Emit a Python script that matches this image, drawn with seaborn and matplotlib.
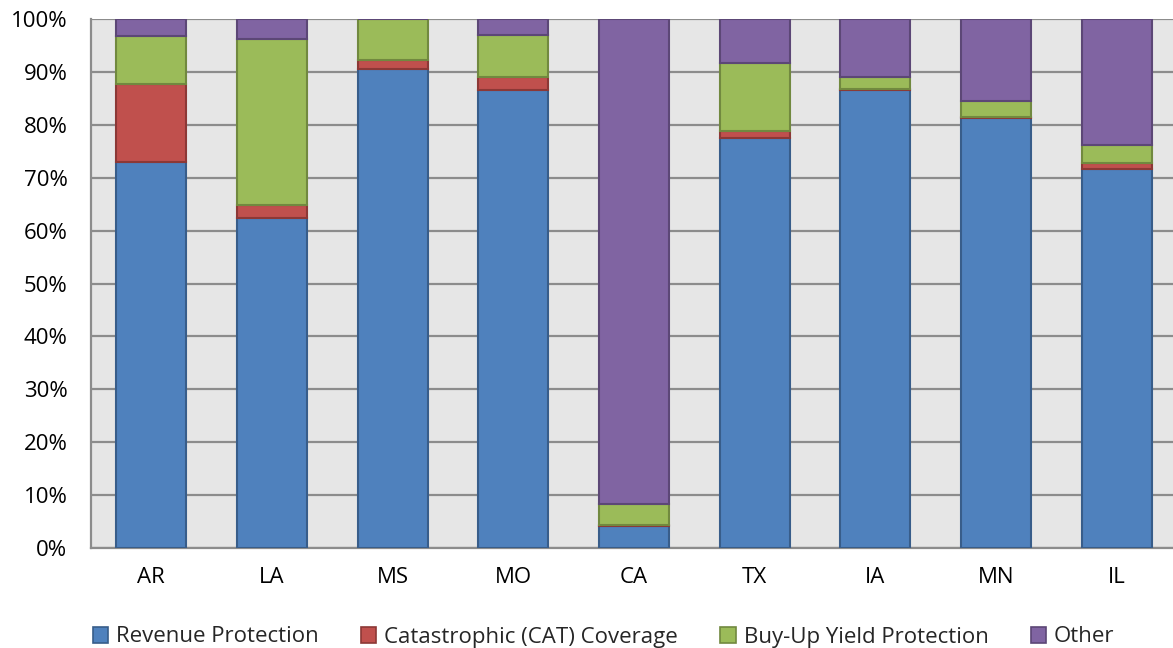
import numpy as np
import pandas as pd
import matplotlib
matplotlib.use("Agg")
import matplotlib.pyplot as plt
from matplotlib.patches import Patch
from matplotlib.ticker import PercentFormatter
import seaborn as sns

states = ["AR", "LA", "MS", "MO", "CA", "TX", "IA", "MN", "IL"]
revenue_protection = [73.0, 62.4, 90.5, 86.6, 4.2, 77.5, 86.5, 81.2, 71.6]
cat_coverage = [14.7, 2.4, 1.7, 2.4, 0.2, 1.3, 0.2, 0.2, 1.2]
buyup_yield = [9.1, 31.4, 7.8, 8.0, 3.9, 12.9, 2.3, 3.1, 3.4]
other = [3.2, 3.8, 0.0, 3.0, 91.7, 8.3, 11.0, 15.5, 23.8]

series_names = ["Revenue Protection", "Catastrophic (CAT) Coverage",
                "Buy-Up Yield Protection", "Other"]
series_values = [revenue_protection, cat_coverage, buyup_yield, other]
face_colors = ["#4F81BD", "#C0504D", "#9BBB59", "#8064A2"]
edge_colors = ["#385D8A", "#8C3836", "#71893F", "#5C4776"]

sns.set_style("white")
plt.rcParams["font.family"] = ["Open Sans", "DejaVu Sans"]

fig = plt.figure(figsize=(11.73, 6.48), dpi=100)
ax = fig.add_axes([91 / 1173, 1 - 548 / 648, 1086 / 1173, 529 / 648])
ax.set_facecolor("#E6E6E6")

bottom = np.zeros(len(states))
for name, vals, fc, ec in zip(series_names, series_values, face_colors, edge_colors):
    df = pd.DataFrame({"state": states, "share": vals})
    sns.barplot(data=df, x="state", y="share", order=states, bottom=bottom,
                color=fc, saturation=1, width=0.58, edgecolor=ec,
                linewidth=1.5, ax=ax, zorder=3)
    bottom = bottom + np.array(vals)

ax.set_xlim(-0.5, len(states) - 0.5)
ax.set_ylim(0, 100)
ax.set_yticks(np.arange(0, 101, 10))
ax.yaxis.set_major_formatter(PercentFormatter(decimals=0))
ax.yaxis.grid(True, color="#8C8C8C", linewidth=1.6, zorder=0)
ax.set_axisbelow(True)
ax.set_xlabel("")
ax.set_ylabel("")
ax.tick_params(axis="both", length=0, labelsize=16, colors="black")
ax.tick_params(axis="x", pad=14)
ax.tick_params(axis="y", pad=17)
for side in ["top", "right"]:
    ax.spines[side].set_visible(False)
for side in ["left", "bottom"]:
    ax.spines[side].set_color("#8C8C8C")
    ax.spines[side].set_linewidth(1.6)

handles = [Patch(facecolor=fc, edgecolor=ec, linewidth=1.2, label=n)
           for n, fc, ec in zip(series_names, face_colors, edge_colors)]
fig.legend(handles=handles, loc="center", bbox_to_anchor=(0.5145, 1 - 637 / 648),
           ncol=4, frameon=False, fontsize=16, handlelength=0.7,
           handleheight=0.7, handletextpad=0.35, columnspacing=1.9)

fig.savefig("out.png", dpi=100)
